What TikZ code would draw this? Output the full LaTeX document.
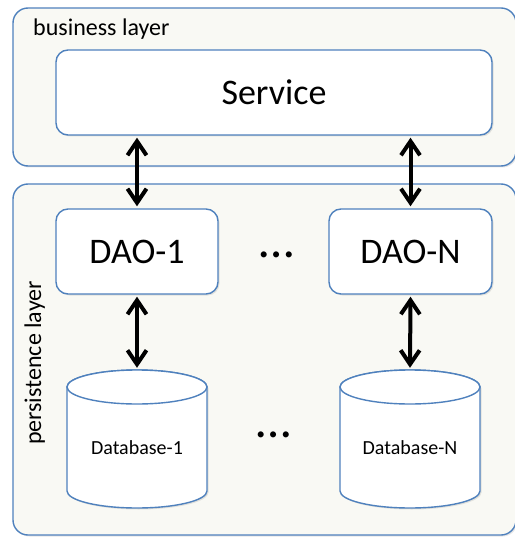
\documentclass[tikz,border=0pt]{standalone}
\usepackage{fontspec}
\setmainfont{Carlito}
\usetikzlibrary{arrows.meta,calc,shadows}
\definecolor{boxblue}{HTML}{4F81BD}
\definecolor{layerbg}{HTML}{F9F9F4}
\def\dbshape(#1){%
	\filldraw[dbline, soft] ($(#1)+(-70,-52)$) -- ++(0,104) arc[start angle=180, end angle=0, x radius=70, y radius=17] -- ++(0,-104) arc[start angle=0, end angle=-180, x radius=70, y radius=17] -- cycle;
	\draw[dbline] ($(#1)+(0,-52)$) ellipse[x radius=70, y radius=17];}
\tikzset{
	soft/.style={drop shadow={opacity=0.2, shadow xshift=1.5pt, shadow yshift=-1.5pt}},
	layer/.style={draw=boxblue, line width=1.4pt, fill=layerbg, rounded corners=15pt, inner sep=0pt, soft},
	comp/.style={draw=boxblue, line width=1.4pt, fill=white, rounded corners=12pt, minimum height=85pt, inner sep=0pt, font=\fontsize{36}{40}\selectfont, soft},
	dbline/.style={draw=boxblue, line width=1.4pt, fill=white},
	dbbox/.style={minimum width=140pt, minimum height=138pt, inner sep=0pt, text height=30pt, text depth=0pt, font=\fontsize{20}{24}\selectfont},
	layertext/.style={inner sep=0pt, font=\fontsize{24}{28}\selectfont},
	gap/.style={inner sep=0pt, font=\fontsize{50}{54}\selectfont},
	link/.style={line width=4pt, shorten <=2pt, shorten >=2pt, {Straight Barb[length=14pt,width=19pt]}-{Straight Barb[length=14pt,width=19pt]}}
}
\begin{document}
\begin{tikzpicture}[x=1pt,y=-1pt]
			%%%%% START %%%%%
			\useasboundingbox (0,0) rectangle (514,537);
			
			\node[layer, minimum width=503pt, minimum height=158pt] (business) at (264.5,87) {};
			\node[layer, minimum width=503pt, minimum height=351pt] (persistence) at (264.5,359.5) {};
			\node[layertext, anchor=base west] (businesstext) at (33,36) {business layer};
			\node[layertext, anchor=base, rotate=90] (persistencetext) at (41,363) {persistence layer};
			
			\node[comp, minimum width=436pt] (svc) at (274,92.5) {Service};
			\node[comp, minimum width=162pt] (dao1) at (137,251.5) {DAO-1};
			\node[comp, minimum width=163pt] (daon) at (410.5,251.5) {DAO-N};
			\node[gap] (gapa) at (277,255) {…};
			
			\dbshape(137,439)
			\node[dbbox] (db1) at (137,439) {Database-1};
			\dbshape(410,439)
			\node[dbbox] (dbn) at (410,439) {Database-N};
			\node[gap] (gapb) at (274,435) {…};
			
			\draw[link] (dao1.north) -- (dao1.north |- svc.south);
			\draw[link] (daon.north) -- (daon.north |- svc.south);
			\draw[link] (dao1.south) -- (db1.north);
			\draw[link] (daon.south) -- (dbn.north);
			
			%%%%% END %%%%%
\end{tikzpicture}
\end{document}
